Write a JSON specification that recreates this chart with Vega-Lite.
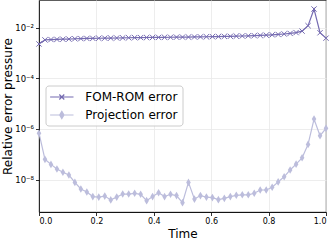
{
  "$schema": "https://vega.github.io/schema/vega-lite/v6.json",
  "width": 287,
  "height": 212,
  "autosize": "none",
  "padding": {"left": 39, "top": 0, "right": 6, "bottom": 29},
  "data": {"values": [
    {"t":0,"s":"FOM-ROM error","v":0.00224},{"t":0.0208,"s":"FOM-ROM error","v":0.00324},{"t":0.0417,"s":"FOM-ROM error","v":0.00335},{"t":0.0625,"s":"FOM-ROM error","v":0.0034},{"t":0.0833,"s":"FOM-ROM error","v":0.00345},{"t":0.1042,"s":"FOM-ROM error","v":0.0035},{"t":0.125,"s":"FOM-ROM error","v":0.0036},{"t":0.1458,"s":"FOM-ROM error","v":0.00365},{"t":0.1667,"s":"FOM-ROM error","v":0.0037},{"t":0.1875,"s":"FOM-ROM error","v":0.00373},{"t":0.2083,"s":"FOM-ROM error","v":0.00376},{"t":0.2292,"s":"FOM-ROM error","v":0.0038},{"t":0.25,"s":"FOM-ROM error","v":0.00383},{"t":0.2708,"s":"FOM-ROM error","v":0.00386},{"t":0.2917,"s":"FOM-ROM error","v":0.0039},{"t":0.3125,"s":"FOM-ROM error","v":0.00395},{"t":0.3333,"s":"FOM-ROM error","v":0.00398},{"t":0.3542,"s":"FOM-ROM error","v":0.004},{"t":0.375,"s":"FOM-ROM error","v":0.00403},{"t":0.3958,"s":"FOM-ROM error","v":0.00406},{"t":0.4167,"s":"FOM-ROM error","v":0.00408},{"t":0.4375,"s":"FOM-ROM error","v":0.0041},{"t":0.4583,"s":"FOM-ROM error","v":0.00412},{"t":0.4792,"s":"FOM-ROM error","v":0.00415},{"t":0.5,"s":"FOM-ROM error","v":0.00418},{"t":0.5208,"s":"FOM-ROM error","v":0.0042},{"t":0.5417,"s":"FOM-ROM error","v":0.00424},{"t":0.5625,"s":"FOM-ROM error","v":0.00428},{"t":0.5833,"s":"FOM-ROM error","v":0.00432},{"t":0.6042,"s":"FOM-ROM error","v":0.00436},{"t":0.625,"s":"FOM-ROM error","v":0.0044},{"t":0.6458,"s":"FOM-ROM error","v":0.00445},{"t":0.6667,"s":"FOM-ROM error","v":0.0045},{"t":0.6875,"s":"FOM-ROM error","v":0.00456},{"t":0.7083,"s":"FOM-ROM error","v":0.00463},{"t":0.7292,"s":"FOM-ROM error","v":0.0047},{"t":0.75,"s":"FOM-ROM error","v":0.00478},{"t":0.7708,"s":"FOM-ROM error","v":0.00488},{"t":0.7917,"s":"FOM-ROM error","v":0.005},{"t":0.8125,"s":"FOM-ROM error","v":0.00515},{"t":0.8333,"s":"FOM-ROM error","v":0.00532},{"t":0.8542,"s":"FOM-ROM error","v":0.00555},{"t":0.875,"s":"FOM-ROM error","v":0.00585},{"t":0.8958,"s":"FOM-ROM error","v":0.0063},{"t":0.9167,"s":"FOM-ROM error","v":0.0072},{"t":0.9375,"s":"FOM-ROM error","v":0.0118},{"t":0.9583,"s":"FOM-ROM error","v":0.0537},{"t":0.9792,"s":"FOM-ROM error","v":0.0062},{"t":1,"s":"FOM-ROM error","v":0.0038},
    {"t":0,"s":"Projection error","v":6.76e-7},{"t":0.0208,"s":"Projection error","v":6.31e-8},{"t":0.0417,"s":"Projection error","v":3.98e-8},{"t":0.0625,"s":"Projection error","v":2.63e-8},{"t":0.0833,"s":"Projection error","v":1.95e-8},{"t":0.1042,"s":"Projection error","v":1.51e-8},{"t":0.125,"s":"Projection error","v":7.76e-9},{"t":0.1458,"s":"Projection error","v":4.27e-9},{"t":0.1667,"s":"Projection error","v":3.24e-9},{"t":0.1875,"s":"Projection error","v":2.14e-9},{"t":0.2083,"s":"Projection error","v":2.04e-9},{"t":0.2292,"s":"Projection error","v":2.24e-9},{"t":0.25,"s":"Projection error","v":1.58e-9},{"t":0.2708,"s":"Projection error","v":2.04e-9},{"t":0.2917,"s":"Projection error","v":2.69e-9},{"t":0.3125,"s":"Projection error","v":2.69e-9},{"t":0.3333,"s":"Projection error","v":2.88e-9},{"t":0.3542,"s":"Projection error","v":2.63e-9},{"t":0.375,"s":"Projection error","v":1.48e-9},{"t":0.3958,"s":"Projection error","v":2.14e-9},{"t":0.4167,"s":"Projection error","v":3.02e-9},{"t":0.4375,"s":"Projection error","v":2.14e-9},{"t":0.4583,"s":"Projection error","v":2.63e-9},{"t":0.4792,"s":"Projection error","v":2.34e-9},{"t":0.5,"s":"Projection error","v":1.23e-9},{"t":0.5208,"s":"Projection error","v":7.76e-9},{"t":0.5417,"s":"Projection error","v":1.7e-9},{"t":0.5625,"s":"Projection error","v":2.34e-9},{"t":0.5833,"s":"Projection error","v":2.04e-9},{"t":0.6042,"s":"Projection error","v":1.95e-9},{"t":0.625,"s":"Projection error","v":1.62e-9},{"t":0.6458,"s":"Projection error","v":1.82e-9},{"t":0.6667,"s":"Projection error","v":2.14e-9},{"t":0.6875,"s":"Projection error","v":2.4e-9},{"t":0.7083,"s":"Projection error","v":2.51e-9},{"t":0.7292,"s":"Projection error","v":2.51e-9},{"t":0.75,"s":"Projection error","v":2.88e-9},{"t":0.7708,"s":"Projection error","v":3.89e-9},{"t":0.7917,"s":"Projection error","v":3.89e-9},{"t":0.8125,"s":"Projection error","v":5.01e-9},{"t":0.8333,"s":"Projection error","v":8.13e-9},{"t":0.8542,"s":"Projection error","v":1.29e-8},{"t":0.875,"s":"Projection error","v":2.4e-8},{"t":0.8958,"s":"Projection error","v":4.07e-8},{"t":0.9167,"s":"Projection error","v":7.24e-8},{"t":0.9375,"s":"Projection error","v":2.45e-7},{"t":0.9583,"s":"Projection error","v":2.45e-6},{"t":0.9792,"s":"Projection error","v":5.37e-7},{"t":1,"s":"Projection error","v":1.05e-6}
  ]},
  "config": {
    "font": "DejaVu Sans",
    "view": {"stroke": "#000000", "strokeWidth": 0.8},
    "axis": {
      "labelFont": "DejaVu Sans", "labelFontSize": 8, "labelColor": "#000000",
      "titleFont": "DejaVu Sans", "titleFontSize": 12, "titleFontWeight": "normal", "titleColor": "#000000",
      "domainColor": "#000000", "domainWidth": 0.8, "tickColor": "#000000", "tickSize": 3.5, "tickWidth": 0.8,
      "gridColor": "#e8e8e8", "gridWidth": 0.8, "labelPadding": 2
    }
  },
  "encoding": {
    "x": {"field": "t", "type": "quantitative",
      "scale": {"domain": [0, 1], "nice": false, "zero": false},
      "axis": {"values": [0, 0.2, 0.4, 0.6, 0.8, 1], "format": ".1f", "title": "Time", "titlePadding": 3}},
    "y": {"field": "v", "type": "quantitative",
      "scale": {"type": "log", "domain": [5.27e-10, 0.1216], "nice": false},
      "axis": {"values": [1e-8, 1e-6, 1e-4, 1e-2], "title": "Relative error pressure",
        "titleX": -32, "titleBaseline": "middle", "labelFontSize": 8.5,
        "labelExpr": "datum.value < 1e-7 ? '10⁻⁸' : datum.value < 1e-5 ? '10⁻⁶' : datum.value < 1e-3 ? '10⁻⁴' : '10⁻²'"}}
  },
  "layer": [
    {
      "mark": {"type": "line", "strokeWidth": 1.2},
      "encoding": {
        "color": {"field": "s", "type": "nominal",
          "scale": {"domain": ["FOM-ROM error", "Projection error"], "range": ["#756bb1", "#bcbddc"]},
          "legend": {"orient": "none", "legendX": 6.5, "legendY": 85.5, "title": null,
            "labelFont": "DejaVu Sans", "labelFontSize": 12, "labelColor": "#000000",
            "symbolSize": 169, "symbolStrokeWidth": 1.2, "symbolOffset": 4.8, "padding": 4, "rowPadding": 4, "labelOffset": 16,
            "strokeColor": "#cccccc", "fillColor": "rgba(255,255,255,0.8)", "cornerRadius": 3,
            "encode": {"symbols": {"update": {
              "shape": {"signal": "datum.value == 'FOM-ROM error' ? 'M-1.8,0L1.8,0M-0.38,-0.38L0.38,0.38M-0.38,0.38L0.38,-0.38' : 'M-1.8,0L1.8,0M0,-0.56L0.33,0L0,0.56L-0.33,0Z'"},
              "fill": {"scale": "color", "field": "value"},
              "stroke": {"scale": "color", "field": "value"},
              "opacity": {"value": 1}
            }}}}
        }
      }
    },
    {
      "transform": [{"filter": "datum.s == 'FOM-ROM error'"}],
      "mark": {"type": "point", "shape": "M-1,-1L1,1M-1,1L1,-1", "size": 28, "filled": false, "strokeWidth": 1, "color": "#756bb1", "opacity": 1}
    },
    {
      "transform": [{"filter": "datum.s == 'Projection error'"}],
      "mark": {"type": "point", "shape": "M0,-1L0.6,0L0,1L-0.6,0Z", "size": 58, "filled": true, "color": "#bcbddc", "opacity": 1}
    }
  ]
}
